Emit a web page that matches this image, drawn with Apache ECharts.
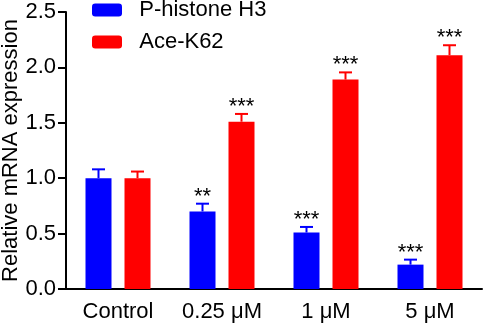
<!DOCTYPE html>
<html lang="en">
<head>
    <meta charset="UTF-8">
    <title>Relative mRNA expression</title>
    <script src="https://cdn.jsdelivr.net/npm/echarts@6/dist/echarts.min.js"></script>
</head>
<body style="margin:0">
<div id="myChart" style="width: 484px;height: 326px;"></div>
<script>
    var categories = ['Control', '0.25 μM', '1 μM', '5 μM'];
    var seriesNames = ['P-histone H3', 'Ace-K62'];
    var histoneMean = [1.0, 0.70, 0.51, 0.22];
    var histoneErr = [0.08, 0.07, 0.05, 0.045];
    var histoneSig = ['', '**', '***', '***'];
    var aceMean = [1.0, 1.51, 1.89, 2.11];
    var aceErr = [0.06, 0.07, 0.065, 0.09];
    var aceSig = ['', '***', '***', '***'];
    var colors = ['#0000FF', '#FF0000'];

    var font = 'Liberation Sans, Arial, sans-serif';
    var barWidth = 26;

    function errData(mean, err, sig) {
        return mean.map(function (m, i) { return [i, m, err[i], sig[i]]; });
    }

    // whisker goes up only, star text sits above the cap
    function errRender(idx) {
        return function (params, api) {
            var shift = (idx === 0 ? -1 : 1) * (barWidth / 2 + barWidth * 0.25);
            var base = api.coord([api.value(0), api.value(1)]);
            var top = api.coord([api.value(0), api.value(1) + api.value(2)]);
            var x = base[0] + shift;
            var capHalf = 6.5;
            var children = [
                {type: 'line', shape: {x1: x, y1: base[1], x2: x, y2: top[1]},
                    style: {stroke: colors[idx], lineWidth: 2}},
                {type: 'line', shape: {x1: x - capHalf, y1: top[1], x2: x + capHalf, y2: top[1]},
                    style: {stroke: colors[idx], lineWidth: 2}}
            ];
            var sig = api.value(3);
            if (sig) {
                children.push({type: 'text', x: x, y: top[1] + 4,
                    style: {text: sig, fill: '#000', font: '22px ' + font,
                        align: 'center', verticalAlign: 'bottom'}});
            }
            return {type: 'group', children: children};
        };
    }

    // one legend per entry so the rows can be placed independently
    function legendItem(name, top) {
        return {
            left: 92,
            top: top,
            padding: 0,
            itemWidth: 30,
            itemHeight: 13,
            data: [name],
            formatter: function (n) { return '  ' + n; },
            textStyle: {
                fontFamily: font,
                fontSize: 22,
                color: '#000'
            }
        };
    }

    var myChart = echarts.init(document.getElementById('myChart'));
    var option = {
        animation: false,
        color: colors,
        grid: {
            left: 66,
            right: 2,
            top: 12,
            bottom: 37,
            outerBoundsMode: 'none'
        },
        legend: [
            legendItem(seriesNames[0], -1),
            legendItem(seriesNames[1], 31)
        ],
        xAxis: {
            type: 'category',
            data: categories,
            axisLine: {lineStyle: {color: '#000', width: 2}},
            axisTick: {alignWithLabel: true, length: 7, lineStyle: {width: 2}},
            axisLabel: {fontFamily: font, fontSize: 22, color: '#000', margin: 12}
        },
        yAxis: {
            type: 'value',
            min: 0,
            max: 2.5,
            interval: 0.5,
            name: 'Relative mRNA expression',
            nameLocation: 'middle',
            nameGap: 44,
            nameMoveOverlap: false,
            nameTextStyle: {fontFamily: font, fontSize: 22, color: '#000'},
            axisLine: {show: true, lineStyle: {color: '#000', width: 2}},
            axisTick: {show: true, length: 8, lineStyle: {width: 2}},
            splitLine: {show: false},
            axisLabel: {
                fontFamily: font, fontSize: 22, color: '#000', margin: 10,
                formatter: function (v) { return v.toFixed(1); }
            }
        },
        series: [
            {name: seriesNames[0], type: 'bar', data: histoneMean, barWidth: barWidth, barGap: '50%'},
            {name: seriesNames[1], type: 'bar', data: aceMean, barWidth: barWidth, barGap: '50%'},
            {type: 'custom', data: errData(histoneMean, histoneErr, histoneSig), renderItem: errRender(0), z: 3},
            {type: 'custom', data: errData(aceMean, aceErr, aceSig), renderItem: errRender(1), z: 3}
        ]
    };
    myChart.setOption(option);
</script>
</body>
</html>
